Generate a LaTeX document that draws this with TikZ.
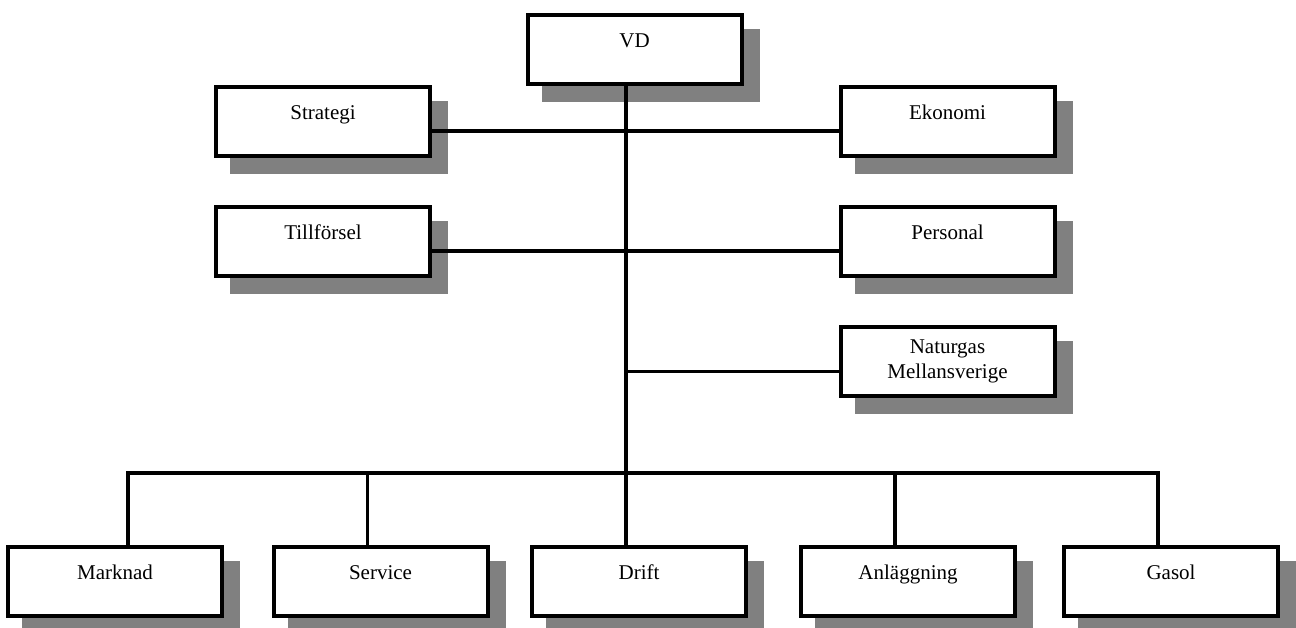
\documentclass[tikz,border=0pt]{standalone}
\usepackage{fontspec}
\setmainfont{Liberation Serif}
\usetikzlibrary{shadows}

\tikzset{
	unit/.style={draw, line width=2pt, fill=white, minimum width=107pt, minimum height=34.5pt,
		inner sep=0pt, font=\fontsize{10.5}{12.5}\selectfont, text height=8pt, text depth=9.8pt,
		drop shadow={shadow xshift=8pt, shadow yshift=-8pt, fill=black!50, draw=black!50, line width=2pt, opacity=1}},
	twoline/.style={unit, align=center, text height=, text depth=},
	link/.style={line width=1.6pt}
}

\begin{document}
\begin{tikzpicture}[x=0.5pt,y=-0.5pt]
	\useasboundingbox (0,0) rectangle (1296,627);
	\node[unit] (VD) at (634.5,49) {VD};
	\node[unit] (Strategi) at (323,121) {Strategi};
	\node[unit] (Ekonomi) at (947.5,121) {Ekonomi};
	\node[unit] (Tillforsel) at (323,241) {Tillförsel};
	\node[unit] (Personal) at (947.5,241) {Personal};
	\node[twoline] (Naturgas) at (947.5,361.5) {Naturgas\\Mellansverige};
	\node[unit] (Marknad) at (115,581) {Marknad};
	\node[unit] (Service) at (380.5,581) {Service};
	\node[unit] (Drift) at (639,581) {Drift};
	\node[unit] (Anlaggning) at (908,581) {Anläggning};
	\node[unit] (Gasol) at (1171,581) {Gasol};
	\coordinate (bus) at (626,473);
	\coordinate (ng) at ([yshift=-5pt]Naturgas.west);
	\draw[link] (bus |- VD.south) -- (bus |- Drift.north);
	\draw[link] ([yshift=-5pt]Strategi.east) -- ([yshift=-5pt]Ekonomi.west);
	\draw[link] ([yshift=-5pt]Tillforsel.east) -- ([yshift=-5pt]Personal.west);
	\draw[link] (ng) -- (ng -| bus);
	\draw[link] ([xshift=6.5pt]Marknad.north) |- (bus) -| ([xshift=-6.5pt]Gasol.north);
	\foreach \n in {Service,Anlaggning}
		\draw[link] ([xshift=-6.5pt]\n.north) -- ([xshift=-6.5pt]\n.north |- bus);
\end{tikzpicture}
\end{document}
